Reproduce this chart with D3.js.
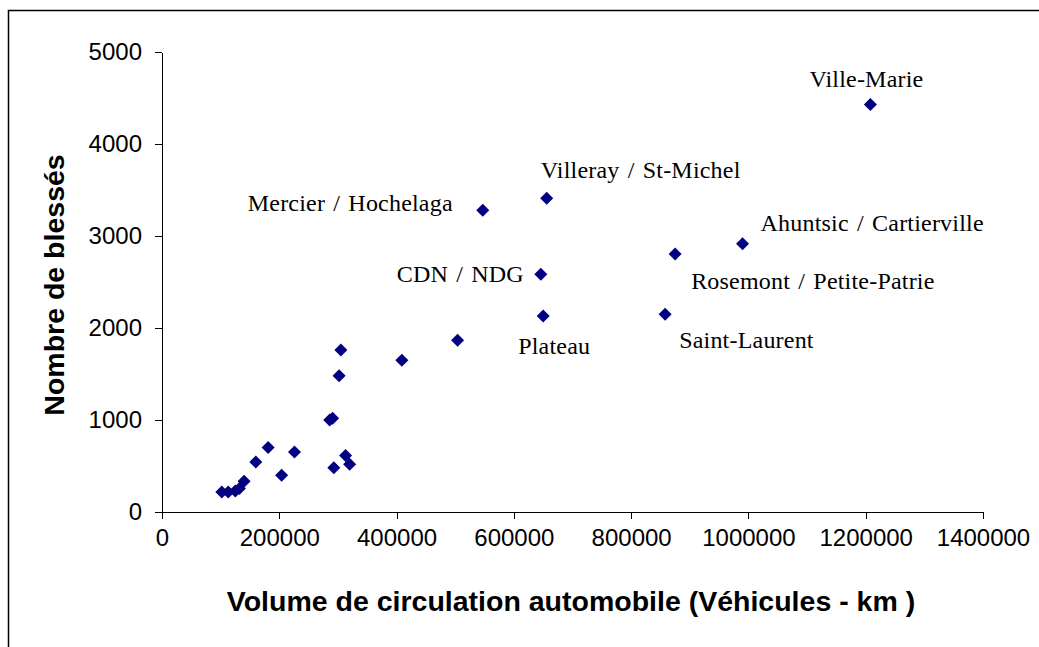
<!DOCTYPE html>
<html>
<head>
<meta charset="utf-8">
<script src="https://cdn.jsdelivr.net/npm/d3@7"></script>
<style>
	body { margin: 0; background: #fff; }
	.axis path, .axis line { stroke: #000; shape-rendering: crispEdges; }
	.axis text { font-family: "Liberation Sans", Arial, sans-serif; font-size: 24px; fill: #000; }
	.title { font-family: "Liberation Sans", Arial, sans-serif; font-weight: bold; font-size: 28.5px; fill: #000; }
	.label { font-family: "Liberation Serif", "Times New Roman", serif; font-size: 24px; word-spacing: 2px; letter-spacing: 0.2px; fill: #000; }
</style>
</head>
<body>
<div id="chart"></div>
<script>
// volume de circulation (véhicules-km) et nombre de blessés, par arrondissement
var volumes = [1208000, 656000, 547000, 990000, 875000, 646000, 650000, 858000,
	504000, 409000, 305000, 302000, 286000, 291000, 181000, 160000, 226000,
	204000, 293000, 313000, 320000, 140000, 132000, 125000, 113000, 102000];
var blesses = [4430, 3410, 3280, 2915, 2805, 2585, 2130, 2150,
	1868, 1650, 1760, 1480, 1000, 1020, 700, 544, 653,
	399, 480, 615, 519, 335, 255, 228, 218, 218];
var names = ['Ville-Marie', 'Villeray / St-Michel', 'Mercier / Hochelaga',
	'Ahuntsic / Cartierville', 'Rosemont / Petite-Patrie', 'CDN / NDG',
	'Plateau', 'Saint-Laurent'];

var xTicks = [0, 200000, 400000, 600000, 800000, 1000000, 1200000, 1400000];
var yTicks = [0, 1000, 2000, 3000, 4000, 5000];

var width = 1039, height = 647;
var margin = {top: 52, right: 56, bottom: 135, left: 162};

var svg = d3.select('#chart').append('svg')
	.attr('width', width)
	.attr('height', height);

// cadre du graphique
svg.append('rect')
	.attr('x', 8.5).attr('y', 10.5)
	.attr('width', width + 20).attr('height', height + 20)
	.attr('fill', 'none')
	.attr('stroke', '#000')
	.attr('stroke-width', 1.5);

var xScale = d3.scaleLinear()
	.domain([0, 1400000])
	.range([margin.left, width - margin.right]);
var yScale = d3.scaleLinear()
	.domain([0, 5000])
	.range([height - margin.bottom, margin.top]);

var xAxis = d3.axisBottom(xScale)
	.tickValues(xTicks)
	.tickSize(7)
	.tickSizeOuter(0)
	.tickPadding(10)
	.tickFormat(d3.format('d'));
var yAxis = d3.axisLeft(yScale)
	.tickValues(yTicks)
	.tickSize(7)
	.tickSizeOuter(0)
	.tickPadding(13)
	.tickFormat(d3.format('d'));

svg.append('g')
	.attr('class', 'axis')
	.attr('transform', 'translate(0,' + yScale(0) + ')')
	.call(xAxis);
svg.append('g')
	.attr('class', 'axis')
	.attr('transform', 'translate(' + xScale(0) + ',0)')
	.call(yAxis);

// titres des axes
svg.append('text')
	.attr('class', 'title')
	.attr('x', 571)
	.attr('y', 611)
	.attr('text-anchor', 'middle')
	.text('Volume de circulation automobile (Véhicules - km )');
svg.append('text')
	.attr('class', 'title')
	.attr('transform', 'translate(64,285) rotate(-90)')
	.attr('text-anchor', 'middle')
	.text('Nombre de blessés');

// points
var side = 9.2;
svg.append('g')
	.selectAll('rect')
	.data(d3.range(volumes.length))
	.enter().append('rect')
		.attr('x', -side / 2).attr('y', -side / 2)
		.attr('width', side).attr('height', side)
		.attr('fill', '#000080')
		.attr('transform', function(i) {
			return 'translate(' + xScale(volumes[i]) + ',' + yScale(blesses[i]) + ') rotate(45)';
		});

// étiquettes (décalage en pixels par rapport au point)
var labelPos = [
	{dx: -4,  dy: -17, anchor: 'middle'},
	{dx: -6,  dy: -20, anchor: 'start'},
	{dx: -30, dy: 1,   anchor: 'end'},
	{dx: 18,  dy: -13, anchor: 'start'},
	{dx: 16,  dy: 35,  anchor: 'start'},
	{dx: -17, dy: 8,   anchor: 'end'},
	{dx: -25, dy: 38,  anchor: 'start'},
	{dx: 14,  dy: 34,  anchor: 'start'}
];
svg.append('g')
	.selectAll('text')
	.data(names)
	.enter().append('text')
		.attr('class', 'label')
		.attr('x', function(d, i) { return xScale(volumes[i]) + labelPos[i].dx; })
		.attr('y', function(d, i) { return yScale(blesses[i]) + labelPos[i].dy; })
		.attr('text-anchor', function(d, i) { return labelPos[i].anchor; })
		.text(function(d) { return d; });
</script>
</body>
</html>
